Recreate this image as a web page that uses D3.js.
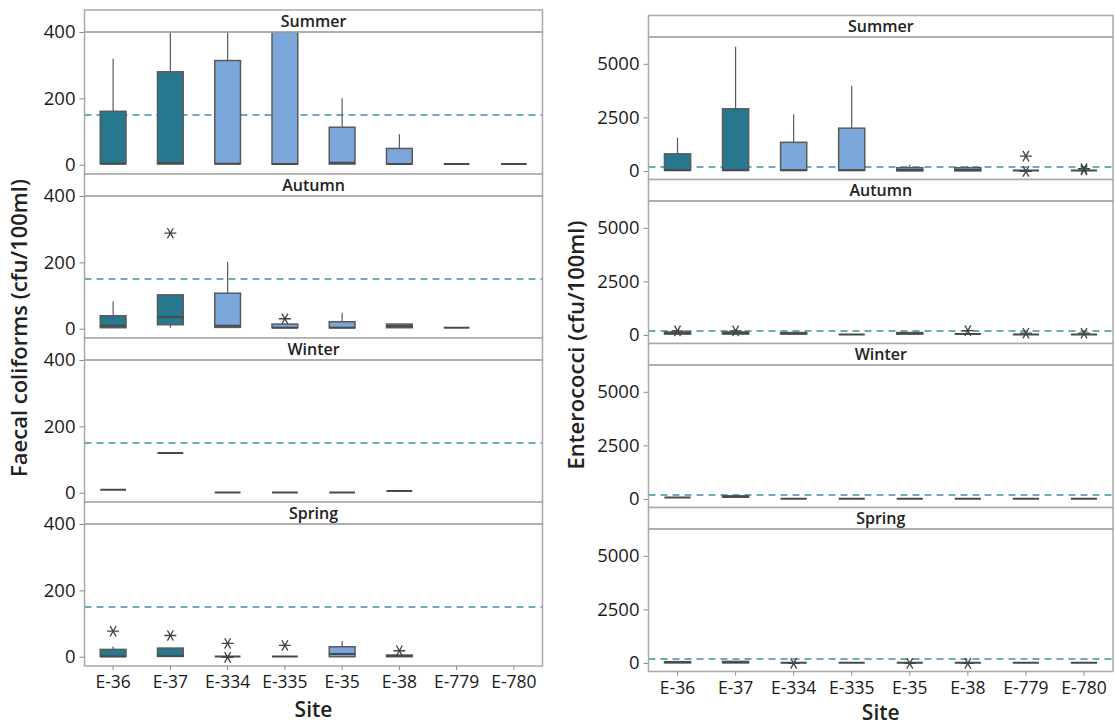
<!DOCTYPE html>
<html>
<head>
<meta charset="utf-8">
<script src="https://cdn.jsdelivr.net/npm/d3@7/dist/d3.min.js"></script>
<style>
  html, body { margin: 0; padding: 0; background: #fff; }
  svg { display: block; font-family: "Open Sans", "Noto Sans", sans-serif; }
</style>
</head>
<body>
<svg id="chart" width="1115" height="727"></svg>
<script>
// Sampling sites and seasons
const sites = ["E-36", "E-37", "E-334", "E-335", "E-35", "E-38", "E-779", "E-780"];
const seasons = ["Summer", "Autumn", "Winter", "Spring"];
const darkSites = ["E-36", "E-37"];

// Box statistics per site: [lower whisker, Q1, median, Q3, upper whisker, outliers]
// Faecal coliforms (cfu/100ml)
const fcSummer = [
  [3, 3, 3, 161, 320, []],
  [2, 2, 5, 280, 400, []],
  [3, 3, 3, 314, 400, []],
  [2, 2, 2, 400, 400, []],
  [2, 2, 6, 113, 200, []],
  [2, 2, 2, 49, 92, []],
  [2, 2, 2, 2, 2, []],
  [2, 2, 2, 2, 2, []]
];
const fcAutumn = [
  [3, 3, 9, 39, 82, []],
  [3, 12, 35, 102, 102, [288]],
  [4, 4, 9, 107, 201, []],
  [3, 3, 3, 14, 14, [30]],
  [3, 3, 3, 21, 48, []],
  [3, 3, 8, 14, 14, []],
  [3, 3, 3, 3, 3, []],
  null
];
const fcWinter = [
  [9, 9, 9, 9, 9, []],
  [120, 120, 120, 120, 120, []],
  [1, 1, 1, 1, 1, []],
  [1, 1, 1, 1, 1, []],
  [1, 1, 1, 1, 1, []],
  [5, 5, 5, 5, 5, []],
  null,
  null
];
const fcSpring = [
  [1, 1, 1, 22, 31, [77]],
  [1, 1, 2, 26, 26, [64]],
  [1, 1, 1, 1, 1, [40, -2]],
  [1, 1, 1, 1, 1, [34]],
  [0, 0, 8, 30, 47, []],
  [0, 0, 2, 5, 5, [18]],
  null,
  null
];

// Enterococci (cfu/100ml)
const entSummer = [
  [30, 30, 30, 797, 1550, []],
  [30, 30, 30, 2900, 5800, []],
  [30, 30, 30, 1335, 2650, []],
  [30, 30, 30, 1995, 3960, []],
  [0, 0, 40, 150, 290, []],
  [0, 0, 40, 150, 230, []],
  [20, 20, 20, 20, 20, [690, -20]],
  [20, 20, 20, 20, 20, [110, 40]]
];
const entAutumn = [
  [40, 40, 80, 140, 140, [190]],
  [40, 40, 80, 140, 140, [190]],
  [40, 40, 70, 110, 110, []],
  [20, 20, 20, 20, 20, []],
  [40, 40, 70, 110, 110, []],
  [40, 40, 40, 40, 40, [200]],
  [20, 20, 20, 20, 20, [80]],
  [20, 20, 20, 20, 20, [80]]
];
const entWinter = [
  [70, 70, 70, 70, 70, []],
  [80, 80, 110, 140, 140, []],
  [10, 10, 10, 10, 10, []],
  [10, 10, 10, 10, 10, []],
  [10, 10, 10, 10, 10, []],
  [10, 10, 10, 10, 10, []],
  [10, 10, 10, 10, 10, []],
  [10, 10, 10, 10, 10, []]
];
const entSpring = [
  [5, 5, 30, 60, 60, []],
  [5, 5, 30, 70, 70, []],
  [10, 10, 10, 10, 10, [-20]],
  [10, 10, 10, 10, 10, []],
  [10, 10, 10, 10, 10, [-20]],
  [10, 10, 10, 10, 10, [-20]],
  [10, 10, 10, 10, 10, []],
  [10, 10, 10, 10, 10, []]
];

// Axis ticks and guideline values
const fcTicks = [0, 200, 400];
const entTicks = [0, 2500, 5000];
const fcGuideline = 150;
const entGuideline = 180;

const svg = d3.select("#chart");
const frameColor = "#a9a9a9";
const boxStroke = "#5a5a5a";
const tealFill = "#27788e";
const blueFill = "#7ca7da";
const refColor = "#3b8ea5";

// six-armed asterisk used for outliers
function asteriskPath(r) {
  const p = d3.path();
  for (let k = 0; k < 3; k++) {
    const a = k * Math.PI / 3;
    p.moveTo(-r * Math.cos(a), -r * Math.sin(a));
    p.lineTo(r * Math.cos(a), r * Math.sin(a));
  }
  return p.toString();
}

function drawFacetColumn(cfg, idx) {
  const x = d3.scaleBand().domain(sites).range([cfg.x0, cfg.x1]).padding(0);
  const bw = x.bandwidth() * 0.45;
  const g = svg.append("g");

  cfg.data.forEach((rows, i) => {
    const top = cfg.top + i * cfg.pitch;
    const plotTop = top + cfg.strip;
    const plotBot = top + cfg.pitch;
    const y = d3.scaleLinear().domain(cfg.domain).range([plotBot, plotTop]);

    // season strip
    g.append("rect")
      .attr("x", cfg.x0).attr("y", top)
      .attr("width", cfg.x1 - cfg.x0).attr("height", cfg.strip)
      .attr("fill", "#fff").attr("stroke", frameColor).attr("stroke-width", 1.5);
    g.append("text")
      .attr("x", (cfg.x0 + cfg.x1) / 2).attr("y", top + cfg.strip / 2 + 5.5)
      .attr("text-anchor", "middle").attr("font-size", 16).attr("font-weight", 600)
      .attr("fill", "#222").text(seasons[i]);

    // y axis
    const yAxis = d3.axisLeft(y).tickValues(cfg.ticks).tickSize(5).tickPadding(4)
      .tickFormat(d3.format("d"));
    const ax = g.append("g").attr("transform", `translate(${cfg.x0},0)`).call(yAxis);
    ax.select(".domain").remove();
    ax.selectAll(".tick line").attr("stroke", "#8a8a8a");
    ax.selectAll(".tick text").attr("font-size", 18.5).attr("fill", "#1a1a1a")
      .attr("font-family", "'Open Sans', sans-serif");

    // clip region of this panel
    const clipId = `clip-${idx}-${i}`;
    svg.append("clipPath").attr("id", clipId).append("rect")
      .attr("x", cfg.x0).attr("y", plotTop)
      .attr("width", cfg.x1 - cfg.x0).attr("height", plotBot - plotTop);
    const pg = g.append("g").attr("clip-path", `url(#${clipId})`);

    // guideline
    pg.append("line")
      .attr("x1", cfg.x0).attr("x2", cfg.x1)
      .attr("y1", y(cfg.ref)).attr("y2", y(cfg.ref))
      .attr("stroke", refColor).attr("stroke-width", 1.5)
      .attr("stroke-dasharray", "7,5");

    rows.forEach((s, j) => {
      if (!s) return;
      const [lo, q1, med, q3, hi, outs] = s;
      const cx = x(sites[j]) + x.bandwidth() / 2;
      const fill = darkSites.includes(sites[j]) ? tealFill : blueFill;
      // whiskers
      if (hi > q3) {
        pg.append("line").attr("x1", cx).attr("x2", cx)
          .attr("y1", y(q3)).attr("y2", y(hi))
          .attr("stroke", boxStroke).attr("stroke-width", 1.2);
      }
      if (lo < q1) {
        pg.append("line").attr("x1", cx).attr("x2", cx)
          .attr("y1", y(q1)).attr("y2", y(lo))
          .attr("stroke", boxStroke).attr("stroke-width", 1.2);
      }
      // box
      pg.append("rect")
        .attr("x", cx - bw / 2).attr("width", bw)
        .attr("y", y(q3)).attr("height", Math.max(0, y(q1) - y(q3)))
        .attr("fill", fill).attr("stroke", boxStroke).attr("stroke-width", 1.5);
      // median
      pg.append("line")
        .attr("x1", cx - bw / 2).attr("x2", cx + bw / 2)
        .attr("y1", y(med)).attr("y2", y(med))
        .attr("stroke", "#4a4a4a").attr("stroke-width", 2);
      // outliers
      outs.forEach(v => {
        pg.append("path")
          .attr("d", asteriskPath(6))
          .attr("transform", `translate(${cx},${y(v)})`)
          .attr("fill", "none").attr("stroke", "#444").attr("stroke-width", 1.3);
      });
    });

    // panel frame
    g.append("rect")
      .attr("x", cfg.x0).attr("y", plotTop)
      .attr("width", cfg.x1 - cfg.x0).attr("height", plotBot - plotTop)
      .attr("fill", "none").attr("stroke", frameColor).attr("stroke-width", 1.5);
  });

  // x axis below the last panel
  const bottom = cfg.top + cfg.data.length * cfg.pitch;
  const xAxis = d3.axisBottom(x).tickSize(4).tickPadding(6);
  const xa = g.append("g").attr("transform", `translate(0,${bottom})`).call(xAxis);
  xa.select(".domain").remove();
  xa.selectAll(".tick line").attr("stroke", "#8a8a8a");
  xa.selectAll(".tick text").attr("font-size", 17.5).attr("fill", "#1a1a1a")
    .attr("font-family", "'Open Sans', sans-serif");

  // axis titles
  g.append("text")
    .attr("x", (cfg.x0 + cfg.x1) / 2).attr("y", Math.min(bottom + 51, 720))
    .attr("text-anchor", "middle").attr("font-size", 21).attr("font-weight", 600)
    .attr("fill", "#222").text("Site");
  g.append("text")
    .attr("transform", `translate(${cfg.yLabelX},${cfg.yLabelY}) rotate(-90)`)
    .attr("text-anchor", "middle").attr("font-size", 22).attr("font-weight", 600)
    .attr("fill", "#222").text(cfg.yTitle);
}

drawFacetColumn({
  x0: 84.5, x1: 542.5, top: 10, pitch: 164, strip: 22,
  domain: [-28, 400], ticks: fcTicks, ref: fcGuideline,
  data: [fcSummer, fcAutumn, fcWinter, fcSpring],
  yTitle: "Faecal coliforms (cfu/100ml)", yLabelX: 27, yLabelY: 328
}, 0);

drawFacetColumn({
  x0: 648.5, x1: 1113, top: 15.5, pitch: 164, strip: 21.5,
  domain: [-400, 6250], ticks: entTicks, ref: entGuideline,
  data: [entSummer, entAutumn, entWinter, entSpring],
  yTitle: "Enterococci (cfu/100ml)", yLabelX: 584, yLabelY: 345
}, 1);
</script>
</body>
</html>
